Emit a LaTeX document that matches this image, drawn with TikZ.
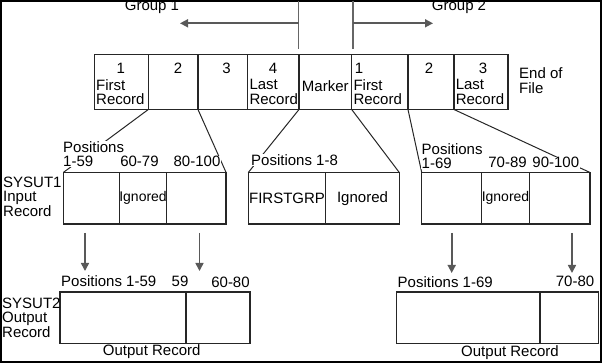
\documentclass[tikz,border=0pt]{standalone}
\usepackage{fontspec}
\setmainfont{Liberation Sans}
\usetikzlibrary{arrows.meta,positioning}

\begin{document}
\begin{tikzpicture}[x=1pt,y=-1pt,
    font=\fontsize{15}{14.5}\selectfont,
    cell/.style={draw=black!85, line width=1.3pt, rectangle, inner sep=0pt, outer sep=0pt, anchor=north west},
    txt/.style={inner sep=0.5pt},
    lbl/.style={fill=white, inner sep=0.5pt},
    ign/.style={font=\fontsize{14}{14}\selectfont},
    fan/.style={draw=black!85, line width=1pt},
    guide/.style={draw=black!60, line width=1.4pt},
    arr/.style={draw=black!65, line width=1.6pt, -{Triangle[length=8pt,width=8pt]}}]
    \useasboundingbox (0,0) rectangle (602,363);
    % outer frame
    \draw[line width=2pt] (1,1) rectangle (601,362);

    % the file: group 1, marker, group 2
    \node[cell, minimum width=54, minimum height=55] (g1a) at (94.3,54.5) {};
    \node[cell, minimum width=49.7, minimum height=55] (g1b) at (g1a.north east) {};
    \node[cell, minimum width=49.7, minimum height=55] (g1c) at (g1b.north east) {};
    \node[cell, minimum width=51.3, minimum height=55] (g1d) at (g1c.north east) {};
    \node[cell, minimum width=52.7, minimum height=55] (mrk) at (g1d.north east) {};
    \node[cell, minimum width=56.3, minimum height=55] (g2a) at (mrk.north east) {};
    \node[cell, minimum width=46, minimum height=55] (g2b) at (g2a.north east) {};
    \node[cell, minimum width=54, minimum height=55] (g2c) at (g2b.north east) {};

    \node[txt] (n1) at (120.7,68) {1};
    \node[txt] (n2) at (178,68) {2};
    \node[txt] (n3) at (226.5,68) {3};
    \node[txt] (n4) at (273,68) {4};
    \node[txt] (n5) at (359,68) {1};
    \node[txt] (n6) at (429,68) {2};
    \node[txt] (n7) at (483,68) {3};
    \node[txt, align=left, anchor=west] (r1) at (95.5,92) {First\\Record};
    \node[txt, align=left, anchor=west] (r4) at (248.8,92) {Last\\Record};
    \node[txt] (mkt) at (325.3,86) {Marker};
    \node[txt, align=left, anchor=west] (r5) at (352.8,92) {First\\Record};
    \node[txt, align=left, anchor=west] (r7) at (455.1,92) {Last\\Record};
    \node[txt, align=left, anchor=west] (eof) at (518.5,80.5) {End of\\File};

    % group arrows
    \coordinate (t1) at (298.5,1);
    \coordinate (b1) at (298.5,49);
    \coordinate (m1) at (298.5,23.3);
    \coordinate (e1) at (180,23.3);
    \coordinate (t2) at (352.8,1);
    \coordinate (b2) at (352.8,49);
    \coordinate (m2) at (352.8,23.3);
    \coordinate (e2) at (433,23.3);
    \draw[guide] (t1) -- (b1);
    \draw[guide] (t2) -- (b2);
    \draw[arr] (m1) -- (e1);
    \draw[arr] (m2) -- (e2);
    \node[txt] (grp1) at (152,7) {Group 1};
    \node[txt] (grp2) at (459,7) {Group 2};

    % SYSUT1 input records
    \node[cell, minimum width=56, minimum height=51.5] (in1a) at (63.3,172.5) {};
    \node[cell, minimum width=47.4, minimum height=51.5, ign] (in1b) at (in1a.north east) {Ignored};
    \node[cell, minimum width=59.3, minimum height=51.5] (in1c) at (in1b.north east) {};
    \node[cell, minimum width=77.4, minimum height=51.5] (mk1) at (248.3,172.5) {FIRSTGRP};
    \node[cell, minimum width=73.6, minimum height=51.5] (mk2) at (mk1.north east) {Ignored};
    \node[cell, minimum width=60, minimum height=51.5] (in2a) at (421.7,172.5) {};
    \node[cell, minimum width=47.6, minimum height=51.5, ign] (in2b) at (in2a.north east) {Ignored};
    \node[cell, minimum width=60.7, minimum height=51.5] (in2c) at (in2b.north east) {};

    \draw[fan] (g1a.south east) -- (in1a.north west);
    \draw[fan] (g1b.south east) -- (in1c.north east);
    \draw[fan] (g1d.south east) -- (mk1.north west);
    \draw[fan] (mrk.south east) -- (mk2.north east);
    \draw[fan] (g2a.south east) -- (in2a.north west);
    \draw[fan] (g2b.south east) -- (in2c.north east);

    \node[lbl, align=left, anchor=west] (p1) at (62.5,154.2) {Positions\\1-59};
    \node[lbl] (p2) at (139.5,161.7) {60-79};
    \node[lbl] (p3) at (197,161.7) {80-100};
    \node[lbl, anchor=west] (p4) at (250.5,160.3) {Positions 1-8};
    \node[lbl, align=left, anchor=west] (p5) at (421,156) {Positions\\1-69};
    \node[lbl] (p6) at (507.5,162.7) {70-89};
    \node[lbl] (p7) at (555.8,162.7) {90-100};
    \node[txt, align=left, anchor=west] (s1) at (2.5,196.5) {SYSUT1\\Input\\Record};

    % moves into SYSUT2
    \coordinate (a1) at (85,233);
    \coordinate (a1e) at (85,271);
    \coordinate (a2) at (199.5,233);
    \coordinate (a2e) at (199.5,271);
    \coordinate (a3) at (451.7,233);
    \coordinate (a3e) at (451.7,273);
    \coordinate (a4) at (572,233);
    \coordinate (a4e) at (572,273);
    \draw[arr] (a1) -- (a1e);
    \draw[arr] (a2) -- (a2e);
    \draw[arr] (a3) -- (a3e);
    \draw[arr] (a4) -- (a4e);

    % SYSUT2 output records
    \node[cell, minimum width=126, minimum height=51.7] (out1a) at (60,292) {};
    \node[cell, minimum width=64, minimum height=51.7] (out1b) at (out1a.north east) {};
    \node[cell, minimum width=143.3, minimum height=51.5] (out2a) at (396.7,292) {};
    \node[cell, minimum width=58.5, minimum height=51.5] (out2b) at (out2a.north east) {};

    \node[lbl, anchor=west] (p8) at (60.5,281) {Positions 1-59};
    \node[lbl] (p9) at (180,281) {59};
    \node[lbl] (p10) at (230.5,282) {60-80};
    \node[lbl, anchor=west] (p11) at (397,281.7) {Positions 1-69};
    \node[lbl] (p12) at (575,281.7) {70-80};
    \node[txt, align=left, anchor=west] (s2) at (1.5,317.5) {SYSUT2\\Output\\Record};
    \node[txt] (o1) at (151.7,351.7) {Output Record};
    \node[txt] (o2) at (510,352.7) {Output Record};
\end{tikzpicture}
\end{document}
